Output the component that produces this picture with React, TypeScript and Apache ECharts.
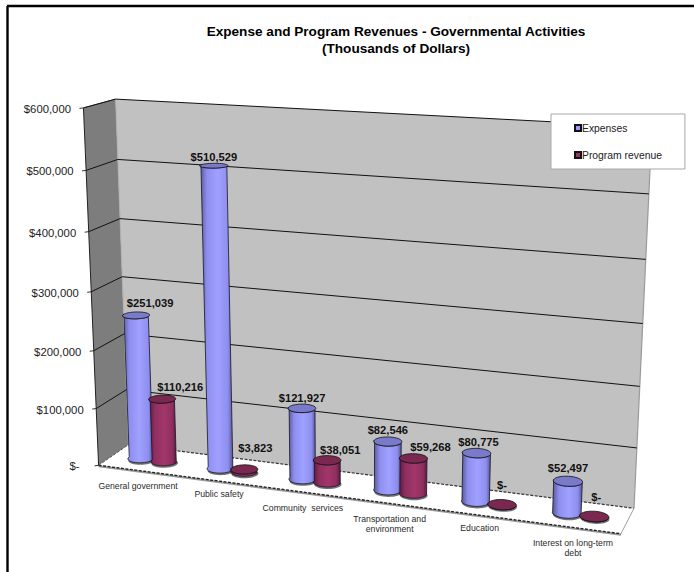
import React, { useEffect, useRef } from "react";
import * as echarts from "echarts";

const categories = ["General government", "Public safety", "Community  services", "Transportation and\nenvironment", "Education", "Interest on long-term\ndebt"];
const expenses = [251039, 510529, 121927, 82546, 80775, 52497];
const programRevenue = [110216, 3823, 38051, 59268, 0, 0];
const yTicks = [0, 100000, 200000, 300000, 400000, 500000, 600000];

// layout only: pixel anchors of the 3D box, label nudges
const CORNERS: number[][] = [
  [0, 0, 0, 99, 465], [1, 0, 0, 621, 534], [0, 0, 1, 128, 445], [1, 0, 1, 634, 508],
  [0, 1, 0, 83, 108], [0, 1, 1, 116, 99], [1, 1, 1, 652, 127],
];
const expLabelNudge = [[14, -12], [0, -9], [0, -10], [0, -11], [2, -11], [0, -13]];
const revLabelNudge = [[18, -12], [11, -21], [13, -10], [17, -11], [0, -20], [2, -19]];
const catLabelDy = [16, 13, 16, 21, 13, 21];
const SANS = '"Liberation Sans", Arial, sans-serif';
const RT = 0.0255, RD = 0.2, DEPTH = 0.5, SPLIT = 0.0245;

function solve(A: number[][], b: number[]): number[] {
  const n = b.length;
  const M = A.map((r, i) => [...r, b[i]]);
  for (let i = 0; i < n; i++) {
    let p = i;
    for (let k = i + 1; k < n; k++) if (Math.abs(M[k][i]) > Math.abs(M[p][i])) p = k;
    [M[i], M[p]] = [M[p], M[i]];
    for (let k = i + 1; k < n; k++) {
      const f = M[k][i] / M[i][i];
      for (let j = i; j <= n; j++) M[k][j] -= f * M[i][j];
    }
  }
  const x = new Array(n).fill(0);
  for (let i = n - 1; i >= 0; i--) {
    let s = M[i][n];
    for (let j = i + 1; j < n; j++) s -= M[i][j] * x[j];
    x[i] = s / M[i][i];
  }
  return x;
}

function fitProjection() {
  const rows: number[][] = [], rhs: number[] = [];
  for (const [t, v, d, X, Y] of CORNERS) {
    rows.push([t, v, d, 1, 0, 0, 0, 0, -X * t / 100, -X * v / 100, -X * d / 100]); rhs.push(X);
    rows.push([0, 0, 0, 0, t, v, d, 1, -Y * t / 100, -Y * v / 100, -Y * d / 100]); rhs.push(Y);
  }
  const n = 11;
  const AtA = Array.from({ length: n }, (_, i) => Array.from({ length: n }, (_, j) => rows.reduce((s, r) => s + r[i] * r[j], 0)));
  const Atb = Array.from({ length: n }, (_, i) => rows.reduce((s, r, k) => s + r[i] * rhs[k], 0));
  const p = solve(AtA, Atb);
  return (t: number, v: number, d: number): [number, number] => {
    const w = (p[8] * t + p[9] * v + p[10] * d) / 100 + 1;
    return [(p[0] * t + p[1] * v + p[2] * d + p[3]) / w, (p[4] * t + p[5] * v + p[6] * d + p[7]) / w];
  };
}

const P = fitProjection();

function norm(params: any, api: any, i: number, val: number) {
  const c = api.coord([i, val]);
  const r = params.coordSys;
  return { t: (c[0] - r.x) / r.width, v: (r.y + r.height - c[1]) / r.height };
}
const money = (n: number) => (n === 0 ? "$-" : "$" + n.toLocaleString("en-US"));

const wallRender = () => {
  const poly = (pts: number[][], fill: string) => ({ type: "polygon", shape: { points: pts }, style: { fill, stroke: "none" } });
  const line = (a: number[], b: number[], stroke: string, lineWidth: number, lineDash?: number[]) =>
    ({ type: "line", shape: { x1: a[0], y1: a[1], x2: b[0], y2: b[1] }, style: { stroke, lineWidth, lineDash } });
  const f00 = P(0, 0, 0), f10 = P(1, 0, 0), f01 = P(0, 0, 1), f11 = P(1, 0, 1);
  const t00 = P(0, 1, 0), t01 = P(0, 1, 1), t11 = P(1, 1, 1);
  return {
    type: "group",
    children: [
      poly([f00, f10, f11, f01], "#ffffff"),
      poly([f00, f01, t01, t00], "#7d7d7d"),
      poly([f01, f11, t11, t01], "#c1c1c1"),
      line([f00[0], f00[1] + 1], [f10[0], f10[1] + 1], "#999999", 2),
      line(f00, f10, "#222222", 1.4, [3, 1.5]),
      line(f01, f11, "#333333", 1.2, [3, 1.5]),
      line(f00, f01, "#555555", 1, [3, 1.5]),
      line(f10, f11, "#a0a0a0", 1),
      line(f11, t11, "#9a9a9a", 1.2),
      line(t00, f00, "#222222", 1),
      line(t00, t01, "#444444", 0.8),
      line(t01, f01, "#a8a8a8", 0.8),
    ],
  };
};

const gridRender = (params: any, api: any) => {
  const val = api.value(1);
  const { v } = norm(params, api, 0, val);
  const a = P(0, v, 0), b = P(0, v, 1), c = P(1, v, 1);
  const children: any[] = [
    { type: "line", shape: { x1: a[0] - 4, y1: a[1] + 0.5, x2: a[0], y2: a[1] }, style: { stroke: "#333333", lineWidth: 1 } },
    { type: "text", style: { text: money(val), x: a[0] - (val === 0 ? 19 : 12.5), y: a[1] + 1, align: "right", verticalAlign: "middle", font: `11.3px ${SANS}`, fill: "#222222" } },
  ];
  if (val > 0) {
    children.push(
      { type: "polyline", shape: { points: [a, b, c] }, style: { stroke: "#111111", lineWidth: 1, fill: "none" } },
    );
  }
  return { type: "group", children };
};

const categoryRender = (params: any, api: any) => {
  const i = api.value(0);
  const { t } = norm(params, api, i, 0);
  const p = P(t, 0, 0);
  return {
    type: "text",
    style: { text: categories[i], x: p[0], y: p[1] + catLabelDy[i], align: "center", verticalAlign: "middle", font: `8.7px ${SANS}`, lineHeight: 10, fill: "#2a2a2a" },
  };
};

const cylinderRender = (side: number, nudges: number[][], shades: string[], topFill: string) => (params: any, api: any) => {
  const i = api.value(0), val = api.value(1);
  const { t, v } = norm(params, api, i, val);
  const cx = t + side * SPLIT;
  const ring = (h: number, from: number, to: number, n: number) => {
    const pts: number[][] = [];
    for (let k = 0; k <= n; k++) {
      const th = from + ((to - from) * k) / n;
      pts.push(P(cx + RT * Math.cos(th), h, DEPTH + RD * Math.sin(th)));
    }
    return pts;
  };
  const base = ring(0, 0, Math.PI * 2, 36);
  const top = ring(v, 0, Math.PI * 2, 36);
  const body = [...ring(0, Math.PI, Math.PI * 2, 18), ...ring(v, Math.PI * 2, Math.PI, 18)];
  const c = P(cx, v, DEPTH);
  const fill = new echarts.graphic.LinearGradient(0, 0, 1, 0, [
    { offset: 0, color: shades[0] }, { offset: 0.22, color: shades[1] }, { offset: 0.55, color: shades[2] },
    { offset: 0.85, color: shades[1] }, { offset: 1, color: shades[0] },
  ]);
  return {
    type: "group",
    children: [
      { type: "polygon", shape: { points: base.map((q) => [q[0] + 0.5, q[1] + 2]) }, style: { fill: "#444444", opacity: 0.75 } },
      { type: "polygon", shape: { points: body }, style: { fill, stroke: "#15152a", lineWidth: 0.8 } },
      { type: "polygon", shape: { points: top }, style: { fill: topFill, stroke: "#111111", lineWidth: 0.8 } },
      { type: "text", style: { text: money(val), x: c[0] + nudges[i][0], y: c[1] + nudges[i][1], align: "center", verticalAlign: "middle", font: `bold 11.2px ${SANS}`, fill: "#111111" } },
    ],
  };
};

export default function App() {
  const ref = useRef<HTMLDivElement>(null);
  useEffect(() => {
    const chart = echarts.init(ref.current!, undefined, { renderer: "svg" });
    chart.setOption({
      animation: false,
      backgroundColor: "#ffffff",
      title: {
        text: "Expense and Program Revenues - Governmental Activities\n(Thousands of Dollars)",
        left: 391, top: 18, textAlign: "center",
        textStyle: { fontFamily: SANS, fontSize: 13.6, fontWeight: "bold", color: "#000000", lineHeight: 17 },
      },
      legend: {
        data: ["Expenses", "Program revenue"], orient: "vertical", left: 551, top: 114,
        padding: [9, 23, 9, 23], itemGap: 17, itemWidth: 6, itemHeight: 6, icon: "rect",
        backgroundColor: "#ffffff", borderColor: "#a8a8a8", borderWidth: 1, selectedMode: false, z: 10,
        textStyle: { fontFamily: SANS, fontSize: 10.35, color: "#222222", padding: [0, 0, 0, -4] },
      },
      grid: { show: false, left: 100, right: 100, top: 100, bottom: 100 },
      xAxis: { type: "category", data: categories, show: false },
      yAxis: { type: "value", min: 0, max: 600000, interval: 100000, show: false },
      graphic: [
        { type: "line", shape: { x1: 7, y1: 6, x2: 694, y2: 6 }, style: { stroke: "#000000", lineWidth: 2.4 }, z: 20 },
        { type: "line", shape: { x1: 7.5, y1: 6, x2: 7.5, y2: 572 }, style: { stroke: "#000000", lineWidth: 2.4 }, z: 20 },
      ],
      series: [
        { type: "custom", silent: true, renderItem: wallRender, data: [[0, 0]], encode: { x: 0, y: 1 }, z: 1 },
        { type: "custom", silent: true, renderItem: gridRender, data: yTicks.map((y) => [0, y]), encode: { x: 0, y: 1 }, z: 2 },
        { type: "custom", silent: true, renderItem: categoryRender, data: categories.map((_, i) => [i, 0]), encode: { x: 0, y: 1 }, z: 2 },
        {
          type: "custom", name: "Expenses", silent: true, z: 3, encode: { x: 0, y: 1 },
          itemStyle: { color: "#9999ff", borderColor: "#111111", borderWidth: 1 },
          renderItem: cylinderRender(-1, expLabelNudge, ["#55558f", "#8e8ef0", "#a0a0ff"], "#7a7acb"),
          data: expenses.map((y, i) => [i, y]),
        },
        {
          type: "custom", name: "Program revenue", silent: true, z: 4, encode: { x: 0, y: 1 },
          itemStyle: { color: "#993366", borderColor: "#111111", borderWidth: 1 },
          renderItem: cylinderRender(1, revLabelNudge, ["#5a1b3c", "#8f2f60", "#a23669"], "#7a2850"),
          data: programRevenue.map((y, i) => [i, y]),
        },
      ],
    });
    return () => chart.dispose();
  }, []);
  return <div ref={ref} style={{ position: "fixed", left: 0, top: 0, width: 694, height: 572 }} />;
}
